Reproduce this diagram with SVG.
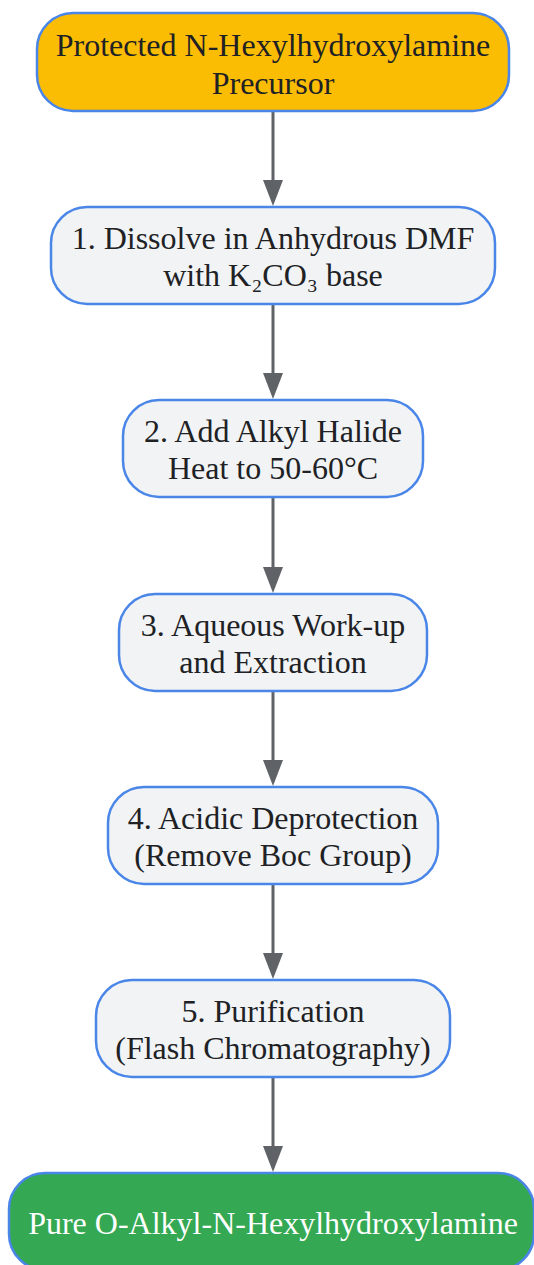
<svg xmlns="http://www.w3.org/2000/svg" width="534" height="1265" viewBox="0 0 534 1265">
<defs>
<style>
.node rect{stroke:#4a86e8;stroke-width:2.5}
.proc rect{fill:#f1f3f5}
.t{font-family:"Liberation Serif","Times New Roman",serif;font-size:32px;fill:#202124;text-anchor:middle}
.w{fill:#ffffff}
.edge{stroke:#5f6368;stroke-width:3;fill:none}
.head{fill:#5f6368}
</style>
</defs>
<rect width="534" height="1265" fill="#ffffff"/>
<g id="edges">
<line class="edge" x1="273" y1="112" x2="273" y2="181"/><path class="head" d="M263,180 L283,180 L273,206 Z"/>
<line class="edge" x1="273" y1="305" x2="273" y2="374"/><path class="head" d="M263,373 L283,373 L273,399 Z"/>
<line class="edge" x1="273" y1="498" x2="273" y2="568"/><path class="head" d="M263,567 L283,567 L273,593 Z"/>
<line class="edge" x1="273" y1="692" x2="273" y2="761"/><path class="head" d="M263,760 L283,760 L273,786 Z"/>
<line class="edge" x1="273" y1="885" x2="273" y2="954"/><path class="head" d="M263,953 L283,953 L273,979 Z"/>
<line class="edge" x1="273" y1="1078" x2="273" y2="1147"/><path class="head" d="M263,1146 L283,1146 L273,1172 Z"/>
</g>
<g id="n0" class="node">
<rect x="37" y="13" width="472" height="98" rx="36" fill="#fbbc04"/>
<text class="t" x="273" y="56">Protected N-Hexylhydroxylamine</text>
<text class="t" x="273" y="94">Precursor</text>
</g>
<g id="n1" class="node proc">
<rect x="51" y="207" width="444" height="97" rx="36"/>
<text class="t" x="273" y="249">1. Dissolve in Anhydrous DMF</text>
<text class="t" x="273" y="286">with K₂CO₃ base</text>
</g>
<g id="n2" class="node proc">
<rect x="123" y="400" width="300" height="97" rx="36"/>
<text class="t" x="273" y="442">2. Add Alkyl Halide</text>
<text class="t" x="273" y="479">Heat to 50-60°C</text>
</g>
<g id="n3" class="node proc">
<rect x="119" y="594" width="308" height="97" rx="36"/>
<text class="t" x="273" y="636">3. Aqueous Work-up</text>
<text class="t" x="273" y="673">and Extraction</text>
</g>
<g id="n4" class="node proc">
<rect x="108" y="787" width="330" height="97" rx="36"/>
<text class="t" x="273" y="829">4. Acidic Deprotection</text>
<text class="t" x="273" y="866">(Remove Boc Group)</text>
</g>
<g id="n5" class="node proc">
<rect x="96" y="980" width="354" height="97" rx="36"/>
<text class="t" x="273" y="1022">5. Purification</text>
<text class="t" x="273" y="1059">(Flash Chromatography)</text>
</g>
<g id="n6" class="node">
<rect x="9" y="1173" width="525" height="97" rx="36" fill="#34a853"/>
<text class="t w" x="273" y="1234">Pure O-Alkyl-N-Hexylhydroxylamine</text>
</g>
</svg>
